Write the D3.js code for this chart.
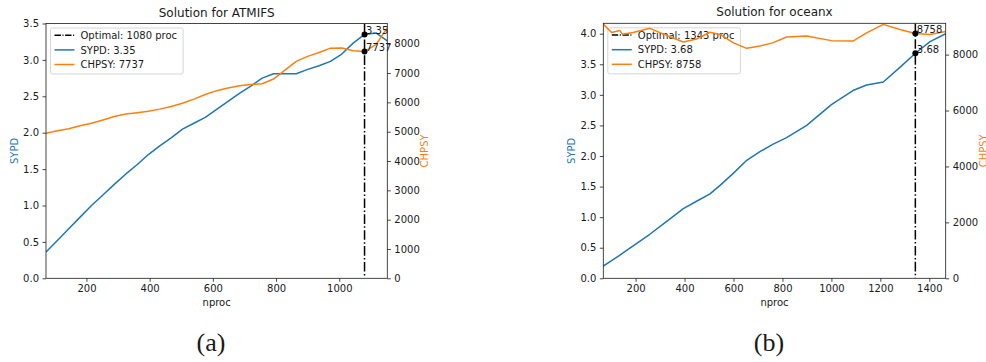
<!DOCTYPE html>
<html>
<head>
<meta charset="utf-8">
<script src="https://cdn.jsdelivr.net/npm/d3@7"></script>
<style>
  html, body { margin: 0; padding: 0; background: #fff; }
  svg { display: block; font-family: "DejaVu Sans", sans-serif; }
</style>
</head>
<body>
<svg id="fig" width="986" height="362"></svg>
<script>
// ---- ATMIFS component ----
const atmNproc = [72, 108, 144, 180, 216, 252, 288, 324, 360, 396, 432, 468, 504, 540, 576,
                  612, 648, 684, 720, 756, 792, 828, 864, 900, 936, 972, 1008, 1044, 1080, 1116, 1152];
const atmSypd  = [0.36, 0.52, 0.68, 0.84, 1.00, 1.145, 1.29, 1.43, 1.56, 1.70, 1.82, 1.93, 2.05, 2.13, 2.21,
                  2.32, 2.43, 2.54, 2.64, 2.75, 2.81, 2.81, 2.81, 2.87, 2.92, 2.98, 3.08, 3.23, 3.35, 3.37, 3.26];
const atmChpsy = [4950, 5030, 5100, 5200, 5290, 5400, 5520, 5600, 5650, 5700, 5770, 5860, 5970, 6110, 6270,
                  6400, 6490, 6570, 6610, 6634, 6795, 7100, 7400, 7570, 7700, 7850, 7853, 7761, 7737, 7966, 8550];
const atmOptimal = { nproc: 1080, sypd: 3.35, chpsy: 7737 };

// ---- oceanx component ----
const ocnNproc = [68, 102, 136, 147, 190, 258, 327, 395, 449, 504, 545, 600, 654, 708, 760,
                  817, 899, 1000, 1088, 1144, 1212, 1280, 1343, 1403, 1467];
const ocnSypd  = [0.20, 0.29, 0.38, 0.41, 0.53, 0.72, 0.93, 1.14, 1.26, 1.38, 1.52, 1.72, 1.93, 2.07, 2.19,
                  2.30, 2.50, 2.84, 3.07, 3.16, 3.21, 3.45, 3.68, 3.87, 4.00];
const ocnChpsy = [9090, 8790, 8860, 8725, 8790, 8940, 8690, 8450, 8560, 8800, 8720, 8420, 8225, 8310, 8420,
                  8630, 8665, 8500, 8486, 8780, 9082, 8900, 8758, 8720, 8830];
const ocnOptimal = { nproc: 1343, sypd: 3.68, chpsy: 8758 };

// ---- tick labels ----
const atmXTicks = [200, 400, 600, 800, 1000];
const ocnXTicks = [200, 400, 600, 800, 1000, 1200, 1400];
const atmSypdTicks = [0, 0.5, 1.0, 1.5, 2.0, 2.5, 3.0, 3.5];
const ocnSypdTicks = [0, 0.5, 1.0, 1.5, 2.0, 2.5, 3.0, 3.5, 4.0];
const atmChpsyTicks = [0, 1000, 2000, 3000, 4000, 5000, 6000, 7000, 8000];
const ocnChpsyTicks = [0, 2000, 4000, 6000, 8000];

const BLUE = "#1f77b4", ORANGE = "#ff7f0e", INK = "#1a1a1a";
const SANS = '"DejaVu Sans", sans-serif';
const SERIF = '"Liberation Serif", "DejaVu Serif", serif';
const svg = d3.select("#fig");

function drawPanel(p) {
  const x = d3.scaleLinear().domain(p.xDomain).range([p.left, p.right]);
  const yL = d3.scaleLinear().domain(p.yLDomain).range([p.bottom, p.top]);
  const yR = d3.scaleLinear().domain(p.yRDomain).range([p.bottom, p.top]);
  const g = svg.append("g");
  const clipId = "clip-" + p.id;
  svg.append("defs").append("clipPath").attr("id", clipId)
    .append("rect").attr("x", p.left).attr("y", p.top)
    .attr("width", p.right - p.left).attr("height", p.bottom - p.top);

  const styleAxis = (sel) => {
    sel.selectAll("path.domain").remove();
    sel.selectAll(".tick line").attr("stroke", INK).attr("stroke-width", 0.8);
    sel.selectAll(".tick text").attr("fill", INK).attr("font-size", 10)
      .style("font-family", SANS);
  };

  // axes
  g.append("g").attr("transform", `translate(0,${p.bottom})`)
    .call(d3.axisBottom(x).tickValues(p.xTicks).tickSize(3.5).tickPadding(3.5).tickFormat(d3.format("d")))
    .call(styleAxis);
  g.append("g").attr("transform", `translate(${p.left},0)`)
    .call(d3.axisLeft(yL).tickValues(p.yLTicks).tickSize(3.5).tickPadding(3.5).tickFormat(d3.format(".1f")))
    .call(styleAxis);
  g.append("g").attr("transform", `translate(${p.right},0)`)
    .call(d3.axisRight(yR).tickValues(p.yRTicks).tickSize(3.5).tickPadding(3.5).tickFormat(d3.format("d")))
    .call(styleAxis);

  const data = p.nproc.map((n, i) => ({ n, s: p.sypd[i], c: p.chpsy[i] }));
  const plot = g.append("g").attr("clip-path", `url(#${clipId})`);

  // SYPD line (primary axis)
  plot.append("path").datum(data)
    .attr("fill", "none").attr("stroke", BLUE).attr("stroke-width", 1.5)
    .attr("stroke-linejoin", "round")
    .attr("d", d3.line().x(d => x(d.n)).y(d => yL(d.s)));

  // optimal processor count
  plot.append("line")
    .attr("x1", x(p.opt.nproc)).attr("x2", x(p.opt.nproc))
    .attr("y1", p.top).attr("y2", p.bottom)
    .attr("stroke", "#000").attr("stroke-width", 1.5)
    .attr("stroke-dasharray", "9.6,2.4,1.5,2.4");

  // legend (belongs to the primary axes, so the twin axis draws over it)
  const lg = g.append("g");
  const lx = p.left + 4.5, ly = p.top + 4.5;
  const entries = [
    { label: `Optimal: ${p.opt.nproc} proc`, color: "#000", dash: "6.4,1.6,1,1.6" },
    { label: `SYPD: ${p.opt.sypd.toFixed(2)}`, color: BLUE, dash: null },
    { label: `CHPSY: ${p.opt.chpsy}`, color: ORANGE, dash: null }
  ];
  const box = lg.append("rect").attr("x", lx).attr("y", ly).attr("rx", 2).attr("ry", 2)
    .attr("fill", "#fff").attr("fill-opacity", 0.8)
    .attr("stroke", "#cccccc").attr("stroke-width", 0.8);
  let maxW = 0;
  entries.forEach((e, i) => {
    const cy = ly + 7.3 + i * 14.6;
    lg.append("line").attr("x1", lx + 4).attr("x2", lx + 24).attr("y1", cy).attr("y2", cy)
      .attr("stroke", e.color).attr("stroke-width", 1.5)
      .attr("stroke-dasharray", e.dash);
    const t = lg.append("text").attr("x", lx + 30).attr("y", cy + 3.6)
      .attr("font-size", 10).attr("fill", INK).text(e.label);
    maxW = Math.max(maxW, t.node().getComputedTextLength());
  });
  box.attr("width", 30 + maxW + 6).attr("height", 46);

  // CHPSY line (twin axis)
  const plot2 = g.append("g").attr("clip-path", `url(#${clipId})`);
  plot2.append("path").datum(data)
    .attr("fill", "none").attr("stroke", ORANGE).attr("stroke-width", 1.5)
    .attr("stroke-linejoin", "round")
    .attr("d", d3.line().x(d => x(d.n)).y(d => yR(d.c)));

  // spines
  g.append("rect").attr("x", p.left).attr("y", p.top)
    .attr("width", p.right - p.left).attr("height", p.bottom - p.top)
    .attr("fill", "none").attr("stroke", INK).attr("stroke-width", 0.8);

  // optimal markers and their annotations
  const ox = x(p.opt.nproc);
  [[yL(p.opt.sypd), p.opt.sypd.toFixed(2)], [yR(p.opt.chpsy), String(p.opt.chpsy)]].forEach(([oy, lbl]) => {
    g.append("circle").attr("cx", ox).attr("cy", oy).attr("r", 3).attr("fill", "#000");
    g.append("text").attr("x", ox + 1.5).attr("y", oy - 0.5)
      .attr("font-size", 10).attr("fill", INK).text(lbl);
  });

  // titles and axis labels
  const cx = (p.left + p.right) / 2, cyMid = (p.top + p.bottom) / 2;
  g.append("text").attr("x", cx).attr("y", p.top - 7).attr("text-anchor", "middle")
    .attr("font-size", 12).attr("fill", INK).text(p.title);
  g.append("text").attr("x", cx).attr("y", p.bottom + 28).attr("text-anchor", "middle")
    .attr("font-size", 10).attr("fill", INK).text("nproc");
  g.append("text").attr("transform", `translate(${p.left - 28},${cyMid}) rotate(-90)`)
    .attr("text-anchor", "middle").attr("font-size", 10).attr("fill", BLUE).text("SYPD");
  g.append("text").attr("transform", `translate(${p.right + 41},${cyMid}) rotate(-90)`)
    .attr("text-anchor", "middle").attr("font-size", 10).attr("fill", ORANGE).text("CHPSY");

  // sub-figure caption
  g.append("text").attr("x", p.capX).attr("y", 351).attr("text-anchor", "middle")
    .style("font-family", SERIF).attr("font-size", 26)
    .attr("fill", INK).text(p.caption);
}

drawPanel({
  id: "a", title: "Solution for ATMIFS", caption: "(a)", capX: 211,
  left: 46, right: 387.3, top: 23.5, bottom: 278.3,
  xDomain: [72, 1152], yLDomain: [0, 3.5], yRDomain: [0, 8690],
  xTicks: atmXTicks, yLTicks: atmSypdTicks, yRTicks: atmChpsyTicks,
  nproc: atmNproc, sypd: atmSypd, chpsy: atmChpsy, opt: atmOptimal
});
drawPanel({
  id: "b", title: "Solution for oceanx", caption: "(b)", capX: 769,
  left: 603.3, right: 945.7, top: 23.3, bottom: 278.3,
  xDomain: [68, 1467], yLDomain: [0, 4.17], yRDomain: [0, 9120],
  xTicks: ocnXTicks, yLTicks: ocnSypdTicks, yRTicks: ocnChpsyTicks,
  nproc: ocnNproc, sypd: ocnSypd, chpsy: ocnChpsy, opt: ocnOptimal
});
</script>
</body>
</html>
